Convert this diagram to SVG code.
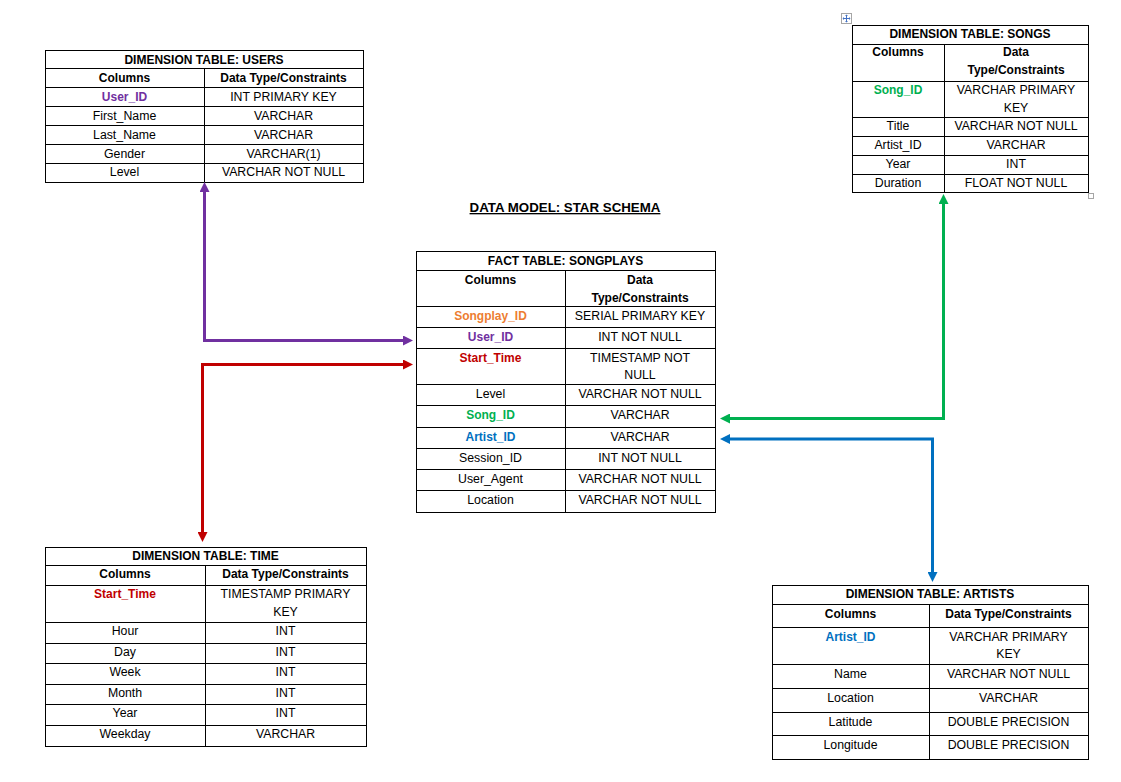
<svg xmlns="http://www.w3.org/2000/svg" width="1121" height="782" viewBox="0 0 1121 782">
<style>
.box{fill:#fff;stroke:#000;stroke-width:1}
.ln{stroke:#000;stroke-width:1;fill:none}
text{font-family:"Liberation Sans",Arial,sans-serif;font-size:12.3px;fill:#000;text-anchor:middle}
.b{font-weight:bold;font-size:12px}
.pu{fill:#7030A0;font-weight:bold;font-size:12px}
.or{fill:#ED7D31;font-weight:bold;font-size:12px}
.rd{fill:#C00000;font-weight:bold;font-size:12px}
.gr{fill:#00B050;font-weight:bold;font-size:12px}
.bl{fill:#0070C0;font-weight:bold;font-size:12px}
.conn{fill:none;stroke-width:3}
</style>
<defs>
<marker id="aPu" markerUnits="userSpaceOnUse" markerWidth="10" markerHeight="10" viewBox="0 -5 10 10" refX="0" refY="0" orient="auto-start-reverse"><path d="M0,-5 L10,0 L0,5 Z" fill="#7030A0"/></marker>
<marker id="aRd" markerUnits="userSpaceOnUse" markerWidth="10" markerHeight="10" viewBox="0 -5 10 10" refX="0" refY="0" orient="auto-start-reverse"><path d="M0,-5 L10,0 L0,5 Z" fill="#C00000"/></marker>
<marker id="aGr" markerUnits="userSpaceOnUse" markerWidth="10" markerHeight="10" viewBox="0 -5 10 10" refX="0" refY="0" orient="auto-start-reverse"><path d="M0,-5 L10,0 L0,5 Z" fill="#00B050"/></marker>
<marker id="aBl" markerUnits="userSpaceOnUse" markerWidth="10" markerHeight="10" viewBox="0 -5 10 10" refX="0" refY="0" orient="auto-start-reverse"><path d="M0,-5 L10,0 L0,5 Z" fill="#0070C0"/></marker>
</defs>
<rect width="1121" height="782" fill="#fff"/>

<text x="565" y="212" class="b" style="font-size:13.3px;text-decoration:underline">DATA MODEL: STAR SCHEMA</text>

<g id="users">
<rect class="box" x="45.5" y="50.5" width="318" height="132"/>
<path class="ln" d="M45.5,68.5H363.5M45.5,87.5H363.5M45.5,106.5H363.5M45.5,125.5H363.5M45.5,144.5H363.5M45.5,163.5H363.5M204.5,68.5V182.5"/>
<text x="204" y="64" class="b">DIMENSION TABLE: USERS</text>
<text x="124.5" y="82" class="b">Columns</text><text x="283.5" y="82" class="b">Data Type/Constraints</text>
<text x="124.5" y="101" class="pu">User_ID</text><text x="283.5" y="101">INT PRIMARY KEY</text>
<text x="124.5" y="120">First_Name</text><text x="283.5" y="120">VARCHAR</text>
<text x="124.5" y="139">Last_Name</text><text x="283.5" y="139">VARCHAR</text>
<text x="124.5" y="158">Gender</text><text x="283.5" y="158">VARCHAR(1)</text>
<text x="124.5" y="176">Level</text><text x="283.5" y="176">VARCHAR NOT NULL</text>
</g>

<g id="songs">
<rect x="841.5" y="13.5" width="10" height="10" fill="#fff" stroke="#A6A6A6"/>
<path d="M846.5,15.5V21.5M843.5,18.5H849.5" stroke="#4472C4" stroke-width="1" fill="none"/>
<path d="M846.5,14.5l-1.5,1.5h3zM846.5,22.5l-1.5,-1.5h3zM842.5,18.5l1.5,-1.5v3zM850.5,18.5l-1.5,-1.5v3z" fill="#4472C4"/>
<rect class="box" x="852.5" y="25.5" width="236" height="167"/>
<path class="ln" d="M852.5,44.5H1088.5M852.5,81.5H1088.5M852.5,117.5H1088.5M852.5,136.5H1088.5M852.5,155.5H1088.5M852.5,174.5H1088.5M944.5,44.5V192.5"/>
<rect x="1088.5" y="193.5" width="5" height="5" fill="#fff" stroke="#A6A6A6"/>
<text x="970" y="38" class="b">DIMENSION TABLE: SONGS</text>
<text x="898" y="56" class="b">Columns</text><text x="1016" y="56" class="b">Data</text><text x="1016" y="74" class="b">Type/Constraints</text>
<text x="898" y="94" class="gr">Song_ID</text><text x="1016" y="94">VARCHAR PRIMARY</text><text x="1016" y="112">KEY</text>
<text x="898" y="130">Title</text><text x="1016" y="130">VARCHAR NOT NULL</text>
<text x="898" y="149">Artist_ID</text><text x="1016" y="149">VARCHAR</text>
<text x="898" y="168">Year</text><text x="1016" y="168">INT</text>
<text x="898" y="187">Duration</text><text x="1016" y="187">FLOAT NOT NULL</text>
</g>

<g id="songplays">
<rect class="box" x="416.5" y="251.5" width="299" height="261"/>
<path class="ln" d="M416.5,270.5H715.5M416.5,306.5H715.5M416.5,327.5H715.5M416.5,348.5H715.5M416.5,384.5H715.5M416.5,405.5H715.5M416.5,427.5H715.5M416.5,448.5H715.5M416.5,469.5H715.5M416.5,490.5H715.5M565.5,270.5V512.5"/>
<text x="565.5" y="265" class="b">FACT TABLE: SONGPLAYS</text>
<text x="490.5" y="284" class="b">Columns</text><text x="640" y="284" class="b">Data</text><text x="640" y="302" class="b">Type/Constraints</text>
<text x="490.5" y="320" class="or">Songplay_ID</text><text x="640" y="320">SERIAL PRIMARY KEY</text>
<text x="490.5" y="341" class="pu">User_ID</text><text x="640" y="341">INT NOT NULL</text>
<text x="490.5" y="362" class="rd">Start_Time</text><text x="640" y="362">TIMESTAMP NOT</text><text x="640" y="379">NULL</text>
<text x="490.5" y="398">Level</text><text x="640" y="398">VARCHAR NOT NULL</text>
<text x="490.5" y="419" class="gr">Song_ID</text><text x="640" y="419">VARCHAR</text>
<text x="490.5" y="441" class="bl">Artist_ID</text><text x="640" y="441">VARCHAR</text>
<text x="490.5" y="462">Session_ID</text><text x="640" y="462">INT NOT NULL</text>
<text x="490.5" y="483">User_Agent</text><text x="640" y="483">VARCHAR NOT NULL</text>
<text x="490.5" y="504">Location</text><text x="640" y="504">VARCHAR NOT NULL</text>
</g>

<g id="time">
<rect class="box" x="45.5" y="547.5" width="321" height="199"/>
<path class="ln" d="M45.5,565.5H366.5M45.5,585.5H366.5M45.5,622.5H366.5M45.5,643.5H366.5M45.5,663.5H366.5M45.5,684.5H366.5M45.5,704.5H366.5M45.5,725.5H366.5M205.5,565.5V746.5"/>
<text x="205.5" y="560" class="b">DIMENSION TABLE: TIME</text>
<text x="125" y="578" class="b">Columns</text><text x="285.5" y="578" class="b">Data Type/Constraints</text>
<text x="125" y="598" class="rd">Start_Time</text><text x="285.5" y="598">TIMESTAMP PRIMARY</text><text x="285.5" y="616">KEY</text>
<text x="125" y="635">Hour</text><text x="285.5" y="635">INT</text>
<text x="125" y="656">Day</text><text x="285.5" y="656">INT</text>
<text x="125" y="676">Week</text><text x="285.5" y="676">INT</text>
<text x="125" y="697">Month</text><text x="285.5" y="697">INT</text>
<text x="125" y="717">Year</text><text x="285.5" y="717">INT</text>
<text x="125" y="738">Weekday</text><text x="285.5" y="738">VARCHAR</text>
</g>

<g id="artists">
<rect class="box" x="772.5" y="585.5" width="316" height="174"/>
<path class="ln" d="M772.5,604.5H1088.5M772.5,627.5H1088.5M772.5,664.5H1088.5M772.5,688.5H1088.5M772.5,712.5H1088.5M772.5,735.5H1088.5M929.5,604.5V759.5"/>
<text x="930" y="598" class="b">DIMENSION TABLE: ARTISTS</text>
<text x="850.5" y="618" class="b">Columns</text><text x="1008.5" y="618" class="b">Data Type/Constraints</text>
<text x="850.5" y="641" class="bl">Artist_ID</text><text x="1008.5" y="641">VARCHAR PRIMARY</text><text x="1008.5" y="658">KEY</text>
<text x="850.5" y="678">Name</text><text x="1008.5" y="678">VARCHAR NOT NULL</text>
<text x="850.5" y="702">Location</text><text x="1008.5" y="702">VARCHAR</text>
<text x="850.5" y="726">Latitude</text><text x="1008.5" y="726">DOUBLE PRECISION</text>
<text x="850.5" y="749">Longitude</text><text x="1008.5" y="749">DOUBLE PRECISION</text>
</g>

<g id="connectors">
<path class="conn" stroke="#7030A0" d="M204.5,192V340.5H403" marker-start="url(#aPu)" marker-end="url(#aPu)"/>
<path class="conn" stroke="#C00000" d="M403,364.5H202.5V532" marker-start="url(#aRd)" marker-end="url(#aRd)"/>
<path class="conn" stroke="#00B050" d="M730,418.5H943.5V204" marker-start="url(#aGr)" marker-end="url(#aGr)"/>
<path class="conn" stroke="#0070C0" d="M730,439H932.5V572" marker-start="url(#aBl)" marker-end="url(#aBl)"/>
</g>
</svg>
